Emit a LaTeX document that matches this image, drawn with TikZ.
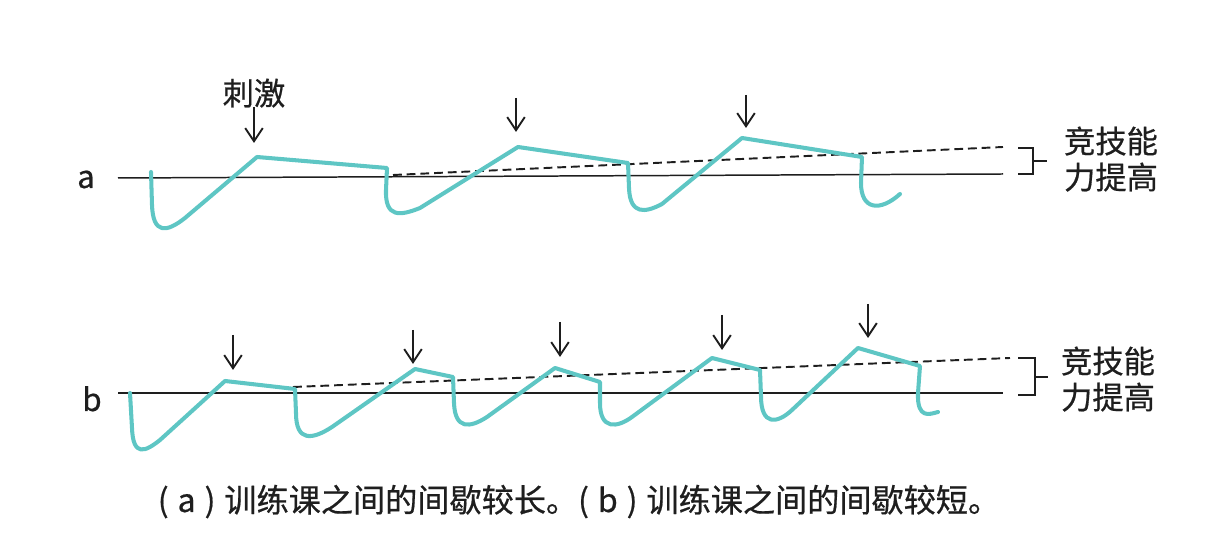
\documentclass[tikz,border=0pt]{standalone}
\usepackage{fontspec}
\setmainfont{Noto Sans CJK SC}[UprightFeatures={FakeBold=0.6}]
\usetikzlibrary{
  arrows.meta
}
\definecolor{wavecyan}{HTML}{5EC6C4}
\definecolor{inkdark}{HTML}{1E1E1E}

\begin{document}
\begin{tikzpicture}[
      x=0.02cm, y=-0.02cm,
      wave/.style={wavecyan, line width=2.3pt, line join=round, line cap=round},
      baseline/.style={inkdark, line width=0.85pt},
      trend/.style={inkdark, line width=1.1pt, dash pattern=on 5pt off 2.8pt},
      stim/.style={-{Straight Barb[length=7.5pt, width=10pt]}, line width=1.1pt, inkdark},
      bracket/.style={inkdark, line width=1pt},
      lbl/.style={font=\fontsize{17.8}{20}\selectfont\color{inkdark}, inner sep=0pt, anchor=base},
      captext/.style={font=\fontsize{18.3}{20}\selectfont\color{inkdark}, inner sep=0pt, anchor=base}
    ]
      \useasboundingbox (0,0) rectangle (1215,546);

      % row a: long rest between sessions
      \node[lbl] (rowa) at (86,188) {a};
      \draw[baseline] (118,178) -- (1003,174);
      \draw[trend] (393,175) -- (1003,147);
      \draw[wave] (151,172) -- (152,205) .. controls (153,234) and (166,233) .. (185,218)
        -- (257,157) -- (387,168) -- (386,190) .. controls (385,218) and (400,216) .. (420,208)
        -- (518,147) -- (628,163) -- (629,188) .. controls (630,215) and (645,213) .. (662,204)
        -- (742,138) -- (862,157) -- (861,183) .. controls (861,210) and (880,212) .. (900,194);

      \node[lbl] (stimlbl) at (254,105) {刺激};
      \coordinate (a1tip) at (254,143);
      \coordinate (a2top) at (516,98);
      \coordinate (a2tip) at (516,132);
      \coordinate (a3top) at (746,95);
      \coordinate (a3tip) at (746,128);
      \draw[stim] (stimlbl.south) ++(0,-1) -- (a1tip);
      \draw[stim] (a2top) -- (a2tip);
      \draw[stim] (a3top) -- (a3tip);

      \draw[bracket] (1018,148) -- (1033,148) -- (1033,174) -- (1018,174);
      \draw[bracket] (1033,161) -- (1047,161);
      \node[lbl] (gaina1) at (1111,153) {竞技能};
      \node[lbl] (gaina2) at (1111,189) {力提高};

      % row b: short rest between sessions
      \node[lbl] (rowb) at (92,411) {b};
      \draw[baseline] (118,393) -- (1003,393);
      \draw[trend] (293,387) -- (1010,358);
      \draw[wave] (130,393) -- (132,428) .. controls (133,457) and (145,452) .. (160,440)
        -- (225,381) -- (295,389) -- (296,413) .. controls (296,442) and (312,440) .. (332,427)
        -- (415,369) -- (453,377) -- (454,403) .. controls (455,430) and (470,428) .. (487,417)
        -- (555,368) -- (600,382) -- (600,403) .. controls (600,430) and (617,428) .. (632,417)
        -- (712,358) -- (760,370) -- (761,396) .. controls (761,426) and (777,424) .. (792,410)
        -- (858,348) -- (920,366) -- (918,393) .. controls (917,420) and (930,414) .. (938,412);

      \coordinate (b1top) at (233,335);
      \coordinate (b1tip) at (233,370);
      \coordinate (b2top) at (413,330);
      \coordinate (b2tip) at (413,364);
      \coordinate (b3top) at (560,322);
      \coordinate (b3tip) at (560,357);
      \coordinate (b4top) at (722,315);
      \coordinate (b4tip) at (722,350);
      \coordinate (b5top) at (868,304);
      \coordinate (b5tip) at (868,338);
      \draw[stim] (b1top) -- (b1tip);
      \draw[stim] (b2top) -- (b2tip);
      \draw[stim] (b3top) -- (b3tip);
      \draw[stim] (b4top) -- (b4tip);
      \draw[stim] (b5top) -- (b5tip);

      \draw[bracket] (1018,358) -- (1035,358) -- (1035,395) -- (1018,395);
      \draw[bracket] (1035,377) -- (1048,377);
      \node[lbl] (gainb1) at (1108,373) {竞技能};
      \node[lbl] (gainb2) at (1108,409) {力提高};

      \node[captext] (caption) at (579,512)
        {(\;a\;)\;训练课之间的间歇较长。(\;b\;)\;训练课之间的间歇较短。};
    \end{tikzpicture}
\end{document}
